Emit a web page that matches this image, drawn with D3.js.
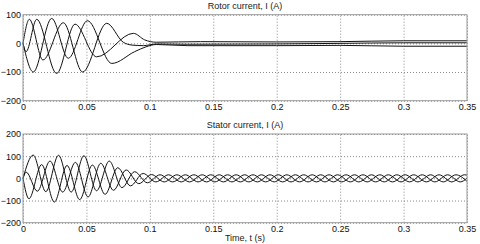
<!DOCTYPE html>
<html>
<head>
<meta charset="utf-8">
<script src="https://cdn.jsdelivr.net/npm/d3@7/dist/d3.min.js"></script>
<style>
  body { margin: 0; background: #fff; }
  svg { display: block; font-family: Arial, "Liberation Sans", sans-serif; }
</style>
</head>
<body>
<div id="chart"></div>
<script>
// tick values
const timeTicks = [0, 0.05, 0.1, 0.15, 0.2, 0.25, 0.3, 0.35];
const rotorTicks = [-200, -100, 0, 100];
const statorTicks = [-200, -100, 0, 100, 200];

// rotor current phases, [t (s), I (A)] read at turning points
const rotorA = [[0, 0], [0.005, 84], [0.0157, -58], [0.0318, 72], [0.047, -100], [0.066, 70],
  [0.079, 4], [0.086, -6], [0.095, -8], [0.105, -2], [0.13, -3], [0.2, -2], [0.25, 0], [0.3, 2], [0.35, 2]];
const rotorB = [[0, 0], [0.0024, -29], [0.0108, 84], [0.0265, -105], [0.041, 67], [0.058, -47],
  [0.087, 35], [0.096, 12], [0.105, 4], [0.14, 6], [0.2, 5], [0.25, 6], [0.3, 9], [0.35, 9]];
const rotorC = [[0, 0], [0.0081, -100], [0.0226, 87], [0.0357, -52], [0.0508, 79], [0.070, -70],
  [0.088, -29], [0.097, -12], [0.105, -4], [0.13, -8], [0.2, -8], [0.25, -7], [0.3, -10], [0.35, -10]];

// stator current phases, [t (s), I (A)] read at turning points
const statorA = [[0, 0], [0.008, 105], [0.018, -60], [0.028, 104], [0.038, -62], [0.048, 102],
  [0.058, -56], [0.068, 78], [0.078, -42], [0.088, 30], [0.098, -20],
  [0.108, 16], [0.118, -16], [0.128, 16], [0.138, -16], [0.148, 16], [0.158, -16], [0.168, 16],
  [0.178, -16], [0.188, 16], [0.198, -16], [0.208, 16], [0.218, -16], [0.228, 16], [0.238, -16],
  [0.248, 16], [0.258, -16], [0.268, 16], [0.278, -16], [0.288, 16], [0.298, -16], [0.308, 16],
  [0.318, -16], [0.328, 16], [0.338, -16], [0.348, 16], [0.35, 15]];
const statorB = [[0, 0], [0.0047, -92], [0.0147, 62], [0.0247, -107], [0.0347, 58], [0.0447, -96],
  [0.0547, 60], [0.0647, -72], [0.0747, 48], [0.0847, -34], [0.0947, 22],
  [0.1047, -16], [0.1147, 16], [0.1247, -16], [0.1347, 16], [0.1447, -16], [0.1547, 16], [0.1647, -16],
  [0.1747, 16], [0.1847, -16], [0.1947, 16], [0.2047, -16], [0.2147, 16], [0.2247, -16], [0.2347, 16],
  [0.2447, -16], [0.2547, 16], [0.2647, -16], [0.2747, 16], [0.2847, -16], [0.2947, 16], [0.3047, -16],
  [0.3147, 16], [0.3247, -16], [0.3347, 16], [0.3447, -16], [0.35, 1]];
const statorC = [[0, 0], [0.0025, 28], [0.0113, -58], [0.0213, 78], [0.0313, -62], [0.0413, 72],
  [0.0513, -84], [0.0613, 68], [0.0713, -54], [0.0813, 38], [0.0913, -24],
  [0.1013, 17], [0.1113, -16], [0.1213, 16], [0.1313, -16], [0.1413, 16], [0.1513, -16], [0.1613, 16],
  [0.1713, -16], [0.1813, 16], [0.1913, -16], [0.2013, 16], [0.2113, -16], [0.2213, 16], [0.2313, -16],
  [0.2413, 16], [0.2513, -16], [0.2613, 16], [0.2713, -16], [0.2813, 16], [0.2913, -16], [0.3013, 16],
  [0.3113, -16], [0.3213, 16], [0.3313, -16], [0.3413, 16], [0.35, -14]];

const width = 480;
const height = 244;

const svg = d3.select('#chart').append('svg')
  .attr('width', width)
  .attr('height', height);

const x = d3.scaleLinear().domain([0, 0.35]).range([23, 467]);
const fmt = d3.format('~g');

function drawPanel(opts) {
  const y = d3.scaleLinear().domain(opts.domain).range([opts.bottom, opts.top]);
  const h = opts.bottom - opts.top;
  const g = svg.append('g');

  // grid
  g.append('g')
    .attr('transform', `translate(0,${opts.bottom})`)
    .call(d3.axisBottom(x).tickValues(timeTicks).tickSize(-h).tickFormat(''))
    .call(s => s.select('.domain').remove())
    .call(s => s.selectAll('line').attr('stroke', '#8a8a8a').attr('stroke-dasharray', '1,2'));
  g.append('g')
    .attr('transform', 'translate(23,0)')
    .call(d3.axisLeft(y).tickValues(opts.ticks).tickSize(-444).tickFormat(''))
    .call(s => s.select('.domain').remove())
    .call(s => s.selectAll('line').attr('stroke', '#8a8a8a').attr('stroke-dasharray', '1,2'));

  // curves
  const line = d3.line()
    .x(d => x(d[0]))
    .y(d => y(d[1]))
    .curve(d3.curveMonotoneX);
  g.selectAll('path.phase')
    .data(opts.series).enter()
    .append('path')
    .attr('class', 'phase')
    .attr('d', line)
    .attr('fill', 'none')
    .attr('stroke', '#111')
    .attr('stroke-width', 1);

  // frame
  g.append('rect')
    .attr('x', 23).attr('y', opts.top)
    .attr('width', 444).attr('height', h)
    .attr('fill', 'none')
    .attr('stroke', '#9a9a9a');

  // tick labels
  g.append('g')
    .attr('transform', `translate(0,${opts.bottom})`)
    .call(d3.axisBottom(x).tickValues(timeTicks).tickSize(0).tickPadding(3).tickFormat(fmt))
    .call(s => s.select('.domain').remove())
    .call(s => s.selectAll('text').attr('font-size', 9).attr('fill', '#111').attr('font-family', null));
  g.append('g')
    .attr('transform', 'translate(23,0)')
    .call(d3.axisLeft(y).tickValues(opts.ticks).tickSize(0).tickPadding(2).tickFormat(fmt))
    .call(s => s.select('.domain').remove())
    .call(s => s.selectAll('text').attr('font-size', 9).attr('fill', '#111').attr('font-family', null));

  // title
  svg.append('text')
    .attr('x', 245).attr('y', opts.top - 6)
    .attr('text-anchor', 'middle')
    .attr('font-size', 9)
    .attr('fill', '#222')
    .text(opts.title);
}

drawPanel({ top: 14.7, bottom: 100.7, domain: [-200, 100], ticks: rotorTicks,
  series: [rotorA, rotorB, rotorC], title: 'Rotor current, I (A)' });
drawPanel({ top: 134, bottom: 222.7, domain: [-200, 200], ticks: statorTicks,
  series: [statorA, statorB, statorC], title: 'Stator current, I (A)' });

svg.append('text')
  .attr('x', 245).attr('y', 241)
  .attr('text-anchor', 'middle')
  .attr('font-size', 9)
  .attr('fill', '#222')
  .text('Time, t (s)');
</script>
</body>
</html>
